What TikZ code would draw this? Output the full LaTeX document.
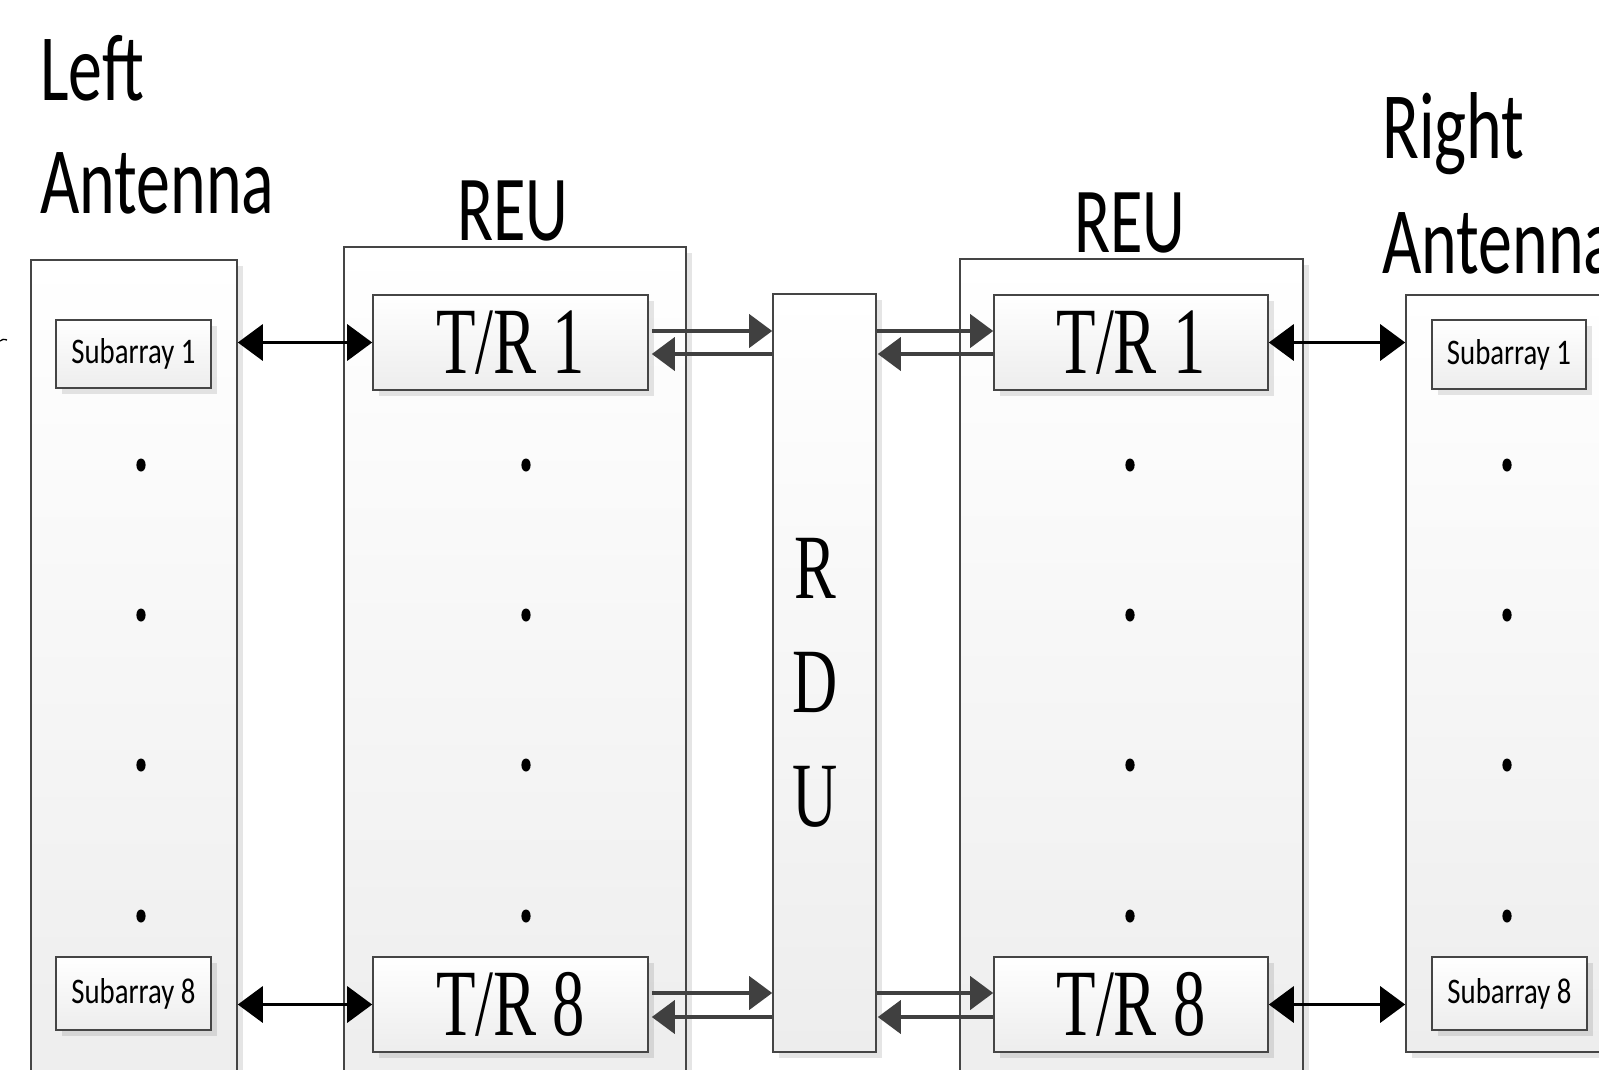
\documentclass[tikz,border=0pt]{standalone}
\usepackage{fontspec}
\usetikzlibrary{arrows.meta,shadows,calc,shapes.geometric}
\newfontfamily\calf[FakeStretch=0.715]{Carlito}
\newfontfamily\subf[FakeStretch=0.8]{Carlito}
\newfontfamily\timesf[FakeStretch=0.68]{Liberation Serif}
\definecolor{edge}{HTML}{454545}
\definecolor{arr}{HTML}{404040}
\definecolor{shadebot}{HTML}{EDEDED}
\tikzset{
  boxbase/.style={draw=edge, line width=1.6pt, inner sep=0pt, rectangle,
    top color=white, bottom color=shadebot,
    drop shadow={shadow xshift=6pt, shadow yshift=-6pt, fill=black, opacity=0.10}},
  outerbox/.style={boxbase},
  trbox/.style={boxbase, font=\timesf\fontsize{95}{100}\selectfont},
  subbox/.style={boxbase, line width=1.4pt, font=\subf\fontsize{36}{40}\selectfont},
  biglabel/.style={inner sep=0pt, font=\calf\fontsize{95}{113}\selectfont, anchor=base west},
  reulabel/.style={inner sep=0pt, font=\calf\fontsize{93}{100}\selectfont, anchor=base},
  rdulabel/.style={inner sep=0pt, font=\timesf\fontsize{92}{100}\selectfont, anchor=base},
  dbl/.style={line width=3.4pt, black, {Triangle[length=25pt,width=36pt]}-{Triangle[length=25pt,width=36pt]}},
  sgl/.style={line width=4pt, arr, -{Triangle[length=23pt,width=33pt]}},
}
\begin{document}
\begin{tikzpicture}[x=1pt,y=-1pt]
\useasboundingbox (0,0) rectangle (1599,1069);
\clip (0,0) rectangle (1599,1069);
\fill[white] (0,0) rectangle (1599,1069);

% outer boxes
\node[outerbox, minimum width=206pt, minimum height=840pt] (la) at (134,680) {};
\node[outerbox, minimum width=342pt, minimum height=853pt] (lreu) at (515,673.5) {};
\node[outerbox, minimum width=103pt, minimum height=758pt] (rdu) at (824.5,673) {};
\node[outerbox, minimum width=343pt, minimum height=841pt] (rreu) at (1131.5,679.5) {};
\node[outerbox, minimum width=294pt, minimum height=757pt] (ra) at (1553,673.5) {};

% inner boxes
\node[trbox, minimum width=275pt, minimum height=95pt] (ltr1) at (510.5,342.5) {T/R 1};
\node[trbox, minimum width=275pt, minimum height=95pt] (ltr8) at (510.5,1004.5) {T/R 8};
\node[trbox, minimum width=274pt, minimum height=95pt] (rtr1) at (1131,342.5) {T/R 1};
\node[trbox, minimum width=274pt, minimum height=95pt] (rtr8) at (1131,1004.5) {T/R 8};

\node[subbox, minimum width=155pt, minimum height=68pt] (ls1) at (133.5,354) {Subarray 1};
\node[subbox, minimum width=155pt, minimum height=73pt] (ls8) at (133.5,993.5) {Subarray 8};
\node[subbox, minimum width=154pt, minimum height=69pt] (rs1) at (1509,354.5) {Subarray 1};
\node[subbox, minimum width=155pt, minimum height=73pt] (rs8) at (1509.5,993.5) {Subarray 8};

% labels
\node[biglabel] (lleft) at (40,100) {Left};
\node[biglabel] (lant) at (40,213) {Antenna};
\node[biglabel] (rright) at (1382,158) {Right};
\node[biglabel] (rant) at (1382,273) {Antenna};
\node[reulabel] (lreut) at (513,240) {REU};
\node[reulabel] (rreut) at (1130,252) {REU};
\node[rdulabel] (rd1) at (815,598) {R};
\node[rdulabel] (rd2) at (815,712) {D};
\node[rdulabel] (rd3) at (815,826) {U};

% dots
\foreach \xx in {141,526,1130,1507}{
  \foreach \yy in {465,615,765,916}{
    \fill[black] (\xx,\yy) ellipse [x radius=4.6pt, y radius=6.5pt];
  }
}

% antenna <-> T/R arrows
\draw[dbl] (la.east |- ltr1.west) -- (ltr1.west);
\draw[dbl] (la.east |- ltr8.west) -- (ltr8.west);
\draw[dbl] (rtr1.east) -- (ra.west |- rtr1.east);
\draw[dbl] (rtr8.east) -- (ra.west |- rtr8.east);

% T/R <-> RDU arrows
\draw[sgl] ($(ltr1.east)+(3,-11.5)$) -- (rdu.west |- {$(ltr1.east)+(3,-11.5)$});
\draw[sgl] (rdu.west |- {$(ltr1.east)+(3,11.5)$}) -- ($(ltr1.east)+(3,11.5)$);
\draw[sgl] ($(ltr8.east)+(3,-11.5)$) -- (rdu.west |- {$(ltr8.east)+(3,-11.5)$});
\draw[sgl] (rdu.west |- {$(ltr8.east)+(3,12.5)$}) -- ($(ltr8.east)+(3,12.5)$);

\draw[sgl] (rdu.east |- {$(rtr1.west)+(0,-11.5)$}) -- ($(rtr1.west)+(0,-11.5)$);
\draw[sgl] ($(rtr1.west)+(0,11.5)$) -- ($(rdu.east |- rtr1.west)+(1,11.5)$);
\draw[sgl] (rdu.east |- {$(rtr8.west)+(0,-11.5)$}) -- ($(rtr8.west)+(0,-11.5)$);
\draw[sgl] ($(rtr8.west)+(0,12.5)$) -- ($(rdu.east |- rtr8.west)+(1,12.5)$);

% small stray mark at the left edge
\draw[line width=1.3pt] (0,341) .. controls (3,339) .. (7,340);
\end{tikzpicture}
\end{document}
